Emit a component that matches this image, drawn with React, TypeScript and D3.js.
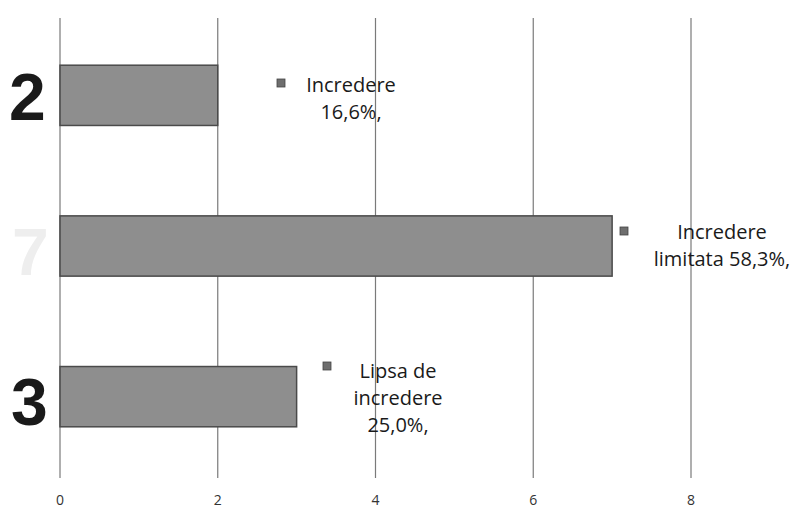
import React from "react";
import * as d3 from "d3";

const categories = ["Incredere", "Incredere limitata", "Lipsa de incredere"];
const values = [2, 7, 3];
const bigLabels = ["2", "7", "3"];
const labelLines = [
  ["Incredere", "16,6%,"],
  ["Incredere", "limitata 58,3%,"],
  ["Lipsa de", "incredere", "25,0%,"],
];
const xTicks = [0, 2, 4, 6, 8];

// layout (pixels)
const W = 804;
const H = 511;
const labelLayout = [
  { sqX: 277, sqY: 79, cx: 351, y0: 92 },
  { sqX: 620, sqY: 227, cx: 722, y0: 239 },
  { sqX: 323, sqY: 362, cx: 398, y0: 378 },
];
const bigLayout = [
  { x: 9, y: 120, fill: "#1a1a1a" },
  { x: 12, y: 275, fill: "#eeeeee" },
  { x: 11, y: 425, fill: "#1a1a1a" },
];

export default function App() {
  const x = d3.scaleLinear().domain([0, 8]).range([60, 691]);
  const y = d3
    .scaleBand<string>()
    .domain(categories)
    .range([20, 472])
    .paddingInner(0.6)
    .paddingOuter(0.3);

  return (
    <div style={{ position: "fixed", left: 0, top: 0 }}>
      <svg width={W} height={H} style={{ display: "block", background: "#fff" }}>
        {xTicks.map((t) => (
          <line
            key={"g" + t}
            x1={x(t)}
            x2={x(t)}
            y1={18}
            y2={478}
            stroke="#7a7a7a"
            strokeWidth={1.2}
          />
        ))}
        {categories.map((c, i) => (
          <rect
            key={c}
            x={x(0)}
            y={y(c)}
            width={x(values[i]) - x(0)}
            height={y.bandwidth()}
            fill="#8e8e8e"
            stroke="#4a4a4a"
            strokeWidth={1.5}
          />
        ))}
        {bigLabels.map((b, i) => (
          <text
            key={"b" + i}
            x={bigLayout[i].x}
            y={bigLayout[i].y}
            fontFamily="Liberation Sans, Arial, sans-serif"
            fontWeight="bold"
            fontSize={66}
            fill={bigLayout[i].fill}
          >
            {b}
          </text>
        ))}
        {labelLines.map((lines, i) => {
          const L = labelLayout[i];
          return (
            <g key={"l" + i}>
              <rect x={L.sqX} y={L.sqY} width={8} height={8} fill="#6e6e6e" stroke="#444" strokeWidth={0.8} />
              {lines.map((ln, j) => (
                <text
                  key={j}
                  x={L.cx}
                  y={L.y0 + j * 27}
                  textAnchor="middle"
                  fontFamily="Open Sans, sans-serif"
                  fontSize={20}
                  fill="#1a1a1a"
                >
                  {ln}
                </text>
              ))}
            </g>
          );
        })}
        {xTicks.map((t) => (
          <text
            key={"t" + t}
            x={x(t)}
            y={505}
            textAnchor="middle"
            fontFamily="Open Sans, sans-serif"
            fontSize={14}
            fill="#333"
          >
            {t}
          </text>
        ))}
      </svg>
    </div>
  );
}
